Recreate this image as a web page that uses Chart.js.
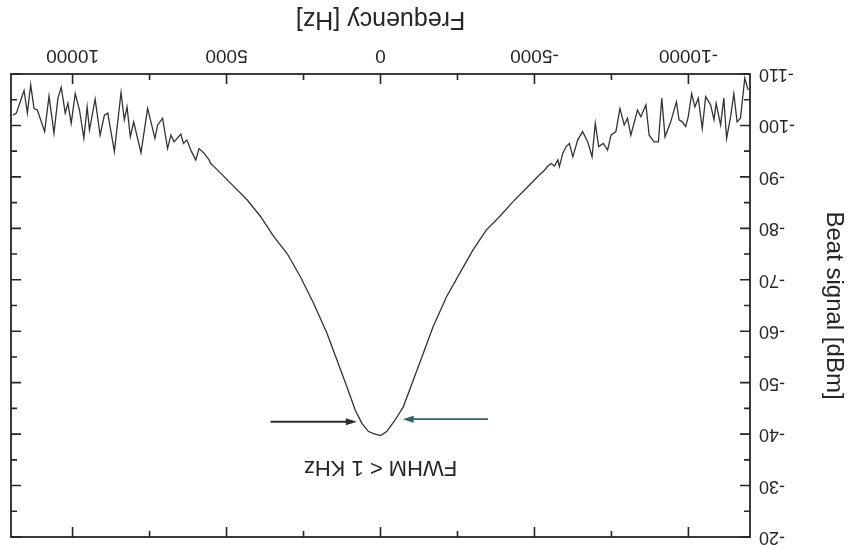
<!DOCTYPE html>
<html>
<head>
<meta charset="utf-8">
<script src="https://cdn.jsdelivr.net/npm/chart.js@4.4.1/dist/chart.umd.min.js"></script>
<style>
  html, body { margin: 0; padding: 0; background: #fff; overflow: hidden; }
  #wrap { width: 852px; height: 545px; transform: rotate(180deg); }
</style>
</head>
<body>
<div id="wrap"><canvas id="beat" width="852" height="545"></canvas></div>
<script>
// beat note spectrum
var freqHz = [
  -11940, -11830, -11690, -11580, -11475, -11370, -11240, -11150, -11045, -10900,
  -10830, -10720, -10560, -10450, -10320, -10210, -10105, -9995, -9910, -9800,
  -9695, -9610, -9425, -9240, -9135, -9025, -8885, -8725, -8620, -8455,
  -8345, -8130, -8020, -7915, -7775, -7645, -7485, -7375, -7235, -7085,
  -6975, -6870, -6730, -6565, -6405, -6245, -6135, -6030, -5920, -5810,
  -5760, -5650, -5540, -5435, -5325, -5165, -4735, -4305, -3870, -3440,
  -3005, -2575, -2145, -1710, -1390, -1065, -740, -470, -200, 0,
  175, 390, 605, 822, 1092, 1415, 1739, 2171, 2602, 3033,
  3465, 3896, 4327, 4760, 5136, 5407, 5514, 5569, 5731, 5838,
  5893, 6000, 6161, 6291, 6398, 6485, 6701, 6808, 6915, 7077,
  7239, 7326, 7563, 7779, 8016, 8125, 8232, 8320, 8427, 8643,
  8857, 8967, 9106, 9268, 9452, 9527, 9634, 9776, 9915, 10045,
  10152, 10239, 10368, 10476, 10605, 10766, 10908, 11038, 11145, 11252,
  11361, 11469, 11576, 11717, 11825, 11932
];
var beatDbm = [
  -106.9, -109.2, -101.4, -100.7, -106.2, -101.7, -97.5, -105.3, -100.1, -104.3,
  -101.1, -104.0, -105.6, -99.4, -105.3, -103.6, -106.2, -101.7, -99.8, -100.7,
  -101.1, -104.6, -100.7, -97.8, -105.3, -96.8, -96.8, -98.1, -104.0, -101.7,
  -103.0, -98.1, -101.4, -100.1, -103.3, -98.8, -98.1, -95.2, -96.5, -95.9,
  -100.4, -93.9, -96.8, -98.8, -97.2, -93.9, -96.5, -95.9, -94.6, -92.0,
  -93.3, -92.1, -92.6, -92.1, -91.3, -90.4, -87.8, -85.2, -82.3, -79.7,
  -75.8, -71.3, -66.7, -60.9, -55.7, -50.5, -45.3, -42.7, -40.5, -39.7,
  -40.0, -40.5, -42.1, -44.7, -49.2, -54.4, -59.6, -65.4, -70.6, -75.1,
  -78.4, -82.3, -85.5, -88.1, -90.4, -92.0, -92.6, -93.3, -94.6, -95.2,
  -95.5, -93.3, -95.2, -97.2, -96.5, -98.3, -96.8, -98.1, -95.5, -101.4,
  -100.1, -97.5, -103.3, -94.7, -100.7, -97.8, -103.6, -101.1, -106.4, -94.9,
  -102.4, -102.0, -98.1, -105.1, -99.1, -103.6, -97.5, -103.0, -106.2, -100.4,
  -104.3, -102.4, -107.4, -105.3, -98.5, -105.7, -98.8, -101.1, -103.0, -103.3,
  -107.9, -102.4, -106.8, -104.3, -102.4, -102.0
];

var xTickValues = [-10000, -5000, 0, 5000, 10000];
var xMinorValues = [-7500, -2500, 2500, 7500];
var yTickValues = [-110, -100, -90, -80, -70, -60, -50, -40, -30, -20];
var yMinorValues = [-105, -95, -85, -75, -65, -55, -45, -35, -25];

var xTitle = 'Frequency [Hz]';
var yTitle = 'Beat signal [dBm]';

// FWHM marker: two arrows pointing at the peak, plus the note
var fwhmNote = 'FWHM < 1 KHz';
var fwhmNoteAt = [0, -33.6];
var arrowFromHz = [3570, -3490];
var arrowToHz = [770, -720];
var arrowDbm = [-42.4, -42.9];
var arrowColors = ['#2b2b2b', '#2f6466'];

var pts = [];
for (var i = 0; i < freqHz.length; i++) {
  pts.push({ x: freqHz[i], y: beatDbm[i] });
}

var ink = '#262626';
var fontFam = '"Liberation Sans", Arial, Helvetica, sans-serif';

function drawArrow(ctx, x0, y0, x1, y1, color) {
  var dir = x1 > x0 ? 1 : -1;
  ctx.strokeStyle = color;
  ctx.fillStyle = color;
  ctx.lineWidth = 1.8;
  ctx.beginPath();
  ctx.moveTo(x0, y0);
  ctx.lineTo(x1 - dir * 8, y1);
  ctx.stroke();
  ctx.beginPath();
  ctx.moveTo(x1, y1);
  ctx.lineTo(x1 - dir * 11, y1 - 3.5);
  ctx.lineTo(x1 - dir * 11, y1 + 3.5);
  ctx.closePath();
  ctx.fill();
}

var framePlugin = {
  id: 'frameAndNotes',
  afterDraw: function (chart) {
    var ctx = chart.ctx;
    var a = chart.chartArea;
    var xs = chart.scales.x, ys = chart.scales.y;
    ctx.save();
    ctx.strokeStyle = ink;
    ctx.lineWidth = 1.8;
    ctx.strokeRect(a.left, a.top, a.right - a.left, a.bottom - a.top);

    ctx.lineWidth = 1.6;
    function xTick(v, len) {
      var px = xs.getPixelForValue(v);
      ctx.beginPath();
      ctx.moveTo(px, a.bottom); ctx.lineTo(px, a.bottom - len);
      ctx.moveTo(px, a.top); ctx.lineTo(px, a.top + len);
      ctx.stroke();
    }
    function yTick(v, len) {
      var py = ys.getPixelForValue(v);
      ctx.beginPath();
      ctx.moveTo(a.left, py); ctx.lineTo(a.left + len, py);
      ctx.moveTo(a.right, py); ctx.lineTo(a.right - len, py);
      ctx.stroke();
    }
    xTickValues.forEach(function (v) { xTick(v, 10); });
    xMinorValues.forEach(function (v) { xTick(v, 6); });
    yTickValues.forEach(function (v) { yTick(v, 10); });
    yMinorValues.forEach(function (v) { yTick(v, 6); });

    for (var k = 0; k < arrowFromHz.length; k++) {
      drawArrow(ctx,
        xs.getPixelForValue(arrowFromHz[k]), ys.getPixelForValue(arrowDbm[k]),
        xs.getPixelForValue(arrowToHz[k]), ys.getPixelForValue(arrowDbm[k]),
        arrowColors[k]);
    }

    ctx.fillStyle = ink;
    ctx.font = '22px ' + fontFam;
    ctx.textAlign = 'center';
    ctx.textBaseline = 'middle';
    ctx.fillText(fwhmNote, xs.getPixelForValue(fwhmNoteAt[0]), ys.getPixelForValue(fwhmNoteAt[1]));
    ctx.restore();
  }
};

var ctx = document.getElementById('beat').getContext('2d');
var beatChart = new Chart(ctx, {
  type: 'scatter',
  data: {
    datasets: [{
      data: pts,
      showLine: true,
      borderColor: '#333333',
      borderWidth: 1.3,
      pointRadius: 0,
      tension: 0
    }]
  },
  options: {
    responsive: false,
    animation: false,
    events: [],
    layout: { padding: { left: 0, right: 11, top: 8, bottom: 0 } },
    plugins: { legend: { display: false }, tooltip: { enabled: false } },
    scales: {
      x: {
        type: 'linear',
        min: -12000,
        max: 12000,
        grid: { display: false, drawTicks: false },
        border: { display: false },
        afterBuildTicks: function (s) { s.ticks = xTickValues.map(function (v) { return { value: v }; }); },
        afterFit: function (s) { s.height = 74; s.paddingLeft = 0; s.paddingRight = 0; },
        ticks: {
          autoSkip: false, maxRotation: 0, padding: 7, color: ink,
          font: { family: fontFam, size: 19 },
          callback: function (v) { return String(v); }
        },
        title: { display: true, text: xTitle, color: ink, padding: { top: 4, bottom: 4 }, font: { family: fontFam, size: 25 } }
      },
      y: {
        min: -110,
        max: -20,
        grid: { display: false, drawTicks: false },
        border: { display: false },
        afterBuildTicks: function (s) { s.ticks = yTickValues.map(function (v) { return { value: v }; }); },
        afterFit: function (s) { s.width = 102; s.paddingTop = 0; s.paddingBottom = 0; },
        ticks: {
          autoSkip: false, padding: 9, color: ink,
          font: { family: fontFam, size: 18 },
          callback: function (v) { return String(v); }
        },
        title: { display: true, text: yTitle, color: ink, padding: { top: 4, bottom: 4 }, font: { family: fontFam, size: 24 } }
      }
    }
  },
  plugins: [framePlugin]
});
</script>
</body>
</html>
